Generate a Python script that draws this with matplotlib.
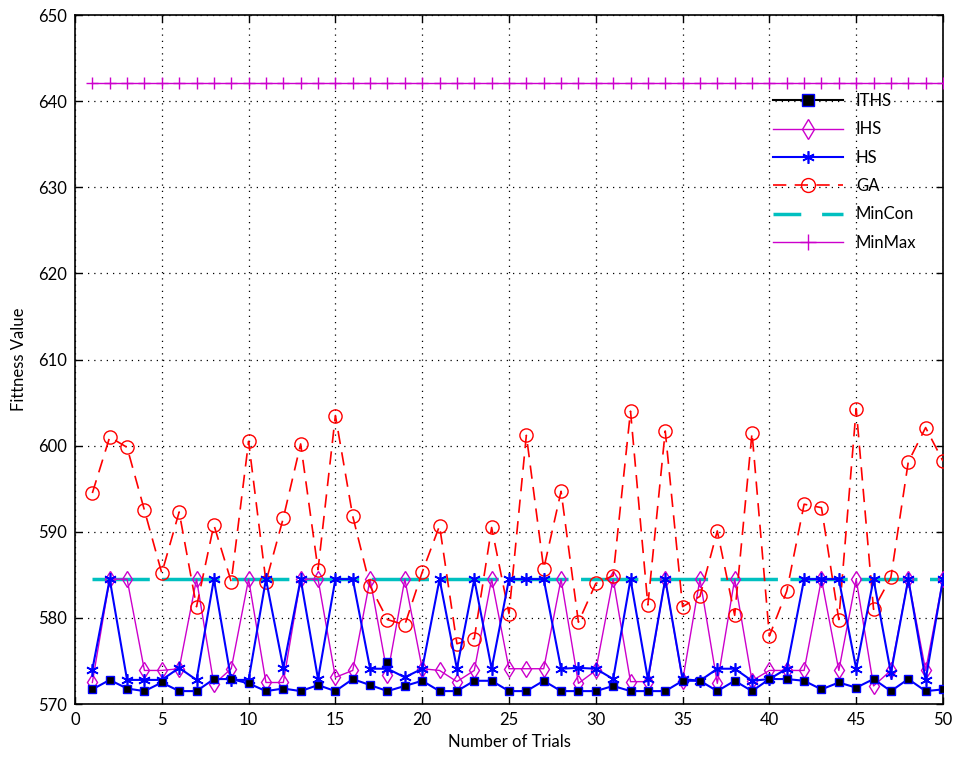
import numpy as np
from matplotlib import pyplot as plt
from matplotlib.lines import Line2D

plt.rcParams['font.family'] = ['Lato', 'DejaVu Sans']

trials = np.arange(1, 51)

iths = [571.7, 572.8, 571.8, 571.5, 572.5, 571.5, 571.5, 572.9, 572.9, 572.4,
        571.5, 571.8, 571.5, 572.2, 571.5, 572.9, 572.2, 571.5, 572.1, 572.7,
        571.5, 571.5, 572.7, 572.7, 571.5, 571.5, 572.7, 571.5, 571.5, 571.5,
        572.1, 571.5, 571.5, 571.5, 572.7, 572.7, 571.5, 572.7, 571.5, 572.9,
        572.9, 572.7, 571.7, 572.5, 571.9, 572.9, 571.5, 572.9, 571.5, 571.7]
ihs = [572.5, 584.5, 584.5, 573.9, 573.9, 574.1, 584.5, 572.3, 574.1, 584.5,
       572.5, 572.5, 584.5, 584.5, 573.1, 573.9, 584.5, 573.4, 584.5, 574.1,
       573.9, 572.6, 573.9, 584.5, 574.1, 574.1, 574.1, 584.5, 572.4, 573.9,
       584.5, 572.6, 572.6, 584.5, 572.7, 584.5, 572.4, 584.5, 572.7, 573.9,
       573.9, 573.9, 584.5, 573.9, 584.5, 572.1, 573.9, 584.5, 573.9, 584.5]
hs = [574.0, 584.5, 572.8, 572.8, 572.8, 574.2, 572.8, 584.5, 572.8, 572.8,
      584.5, 574.2, 584.5, 572.9, 584.5, 584.5, 574.1, 574.1, 573.1, 574.1,
      584.5, 574.1, 584.5, 574.1, 584.5, 584.5, 584.5, 574.1, 574.2, 574.1,
      572.9, 584.5, 572.9, 584.5, 572.9, 572.7, 574.1, 574.1, 572.7, 572.9,
      574.1, 584.5, 584.5, 584.5, 574.1, 584.5, 573.6, 584.5, 572.8, 584.5]
ga = [594.5, 601.0, 599.8, 592.5, 585.2, 592.3, 581.3, 590.8, 584.2, 600.5,
      584.2, 591.6, 600.2, 585.6, 603.5, 591.8, 583.7, 579.8, 579.2, 585.3,
      590.7, 577.0, 577.6, 590.5, 580.5, 601.2, 585.7, 594.7, 579.5, 584.0,
      584.9, 604.0, 581.5, 601.7, 581.3, 582.5, 590.1, 580.3, 601.5, 577.9,
      583.1, 593.2, 592.8, 579.8, 604.3, 581.0, 584.7, 598.1, 602.1, 598.2]
mincon = 584.5
minmax = 642.1
# odd extra marker seen near trial 18
stray_x = [18]
stray_y = [574.9]

star = (6, 2, 0)  # asterisk like matlab '*'

fig = plt.figure(figsize=(9.59, 7.58), dpi=100)
ax = fig.add_axes([0.0782, 0.0712, 0.9051, 0.9090])

ax.plot(trials, iths, '-', color='blue', lw=1.5, marker='s', ms=5.5,
        mfc='black', mec='blue', mew=1.0, zorder=5)
ax.plot(stray_x, stray_y, 's', ms=5.5, mfc='black', mec='blue', mew=1.0, zorder=5)
ax.plot(trials, ihs, '-', color='#cc00cc', lw=1.0, marker='d', ms=8,
        mfc='none', mec='#cc00cc', mew=1.0, zorder=3)
ax.plot(trials, hs, '-', color='blue', lw=1.5, marker=star, ms=9,
        mec='blue', mew=1.2, zorder=4)
ax.plot(trials, ga, '--', color='red', lw=1.2, dashes=(8, 5), marker='o', ms=9.5,
        mfc='none', mec='red', mew=1.0, zorder=3)
ax.plot(trials, [mincon] * len(trials), '-', color='#00c0c0', lw=2.5,
        dashes=(16.5, 3.6), zorder=2)
ax.plot(trials, [minmax] * len(trials), '-', color='#cc00cc', lw=1.0,
        marker='+', ms=9, mew=1.0, zorder=3)

ax.set_xlim(0, 50)
ax.set_ylim(570, 650)
ax.set_xticks(np.arange(0, 51, 5))
ax.set_yticks(np.arange(570, 651, 10))
ax.tick_params(direction='in', top=True, right=True, length=5, width=1,
               labelsize=12, pad=6)
ax.grid(True, linestyle=(0, (1, 4)), linewidth=0.9, color='black')
for s in ax.spines.values():
    s.set_linewidth(1.2)
ax.set_xlabel('Number of Trials', fontsize=12, labelpad=4)
ax.set_ylabel('Fittness Value', fontsize=12, labelpad=8)

handles = [
    Line2D([], [], color='black', lw=1.5, marker='s', ms=9, mfc='black', mec='blue'),
    Line2D([], [], color='#cc00cc', lw=1.0, marker='d', ms=10, mfc='none', mec='#cc00cc'),
    Line2D([], [], color='blue', lw=1.5, marker=star, ms=9, mec='blue', mew=1.2),
    Line2D([], [], color='red', lw=1.2, dashes=(8, 5), marker='o', ms=10, mfc='none', mec='red'),
    Line2D([], [], color='#00c0c0', lw=2.5, dashes=(8, 6)),
    Line2D([], [], color='#cc00cc', lw=1.0, marker='+', ms=12, mew=1.0),
]
labels = ['ITHS', 'IHS', 'HS', 'GA', 'MinCon', 'MinMax']
leg = ax.legend(handles, labels, loc='upper left', bbox_to_anchor=(0.79, 0.897),
                bbox_transform=fig.transFigure, frameon=False, fontsize=12,
                handlelength=4.2, handletextpad=0.8, labelspacing=0.74)

fig.savefig('out.png', dpi=100)
